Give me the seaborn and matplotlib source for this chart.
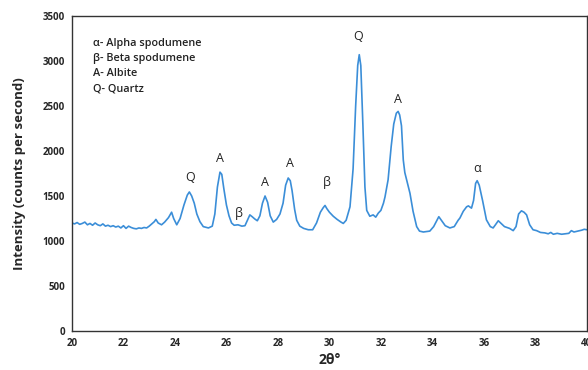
import pandas as pd
import seaborn as sns
import matplotlib.pyplot as plt

two_theta = [
    20.00, 20.10, 20.20, 20.30, 20.40, 20.50, 20.60, 20.70, 20.80, 20.90,
    21.00, 21.10, 21.20, 21.30, 21.40, 21.50, 21.60, 21.70, 21.80, 21.90,
    22.00, 22.10, 22.20, 22.30, 22.40, 22.50, 22.60, 22.70, 22.80, 22.90,
    23.00, 23.10, 23.20, 23.26, 23.35, 23.48, 23.60, 23.75, 23.87, 23.95,
    24.07, 24.20, 24.35, 24.48, 24.56, 24.65, 24.75, 24.85, 24.97, 25.10,
    25.30, 25.45, 25.55, 25.65, 25.75, 25.82, 25.90, 26.00, 26.10, 26.20,
    26.30, 26.45, 26.60, 26.72, 26.80, 26.91, 27.00, 27.10, 27.20, 27.30,
    27.40, 27.50, 27.60, 27.70, 27.82, 27.95, 28.08, 28.20, 28.30, 28.40,
    28.48, 28.55, 28.65, 28.73, 28.85, 29.00, 29.18, 29.35, 29.50, 29.65,
    29.76, 29.83, 29.90, 30.00, 30.15, 30.30, 30.45, 30.54, 30.65, 30.80,
    30.92, 31.02, 31.10, 31.16, 31.22, 31.30, 31.38, 31.45, 31.57, 31.70,
    31.80, 31.90, 32.00, 32.10, 32.16, 32.28, 32.40, 32.50, 32.60, 32.67,
    32.73, 32.80, 32.87, 32.93, 33.00, 33.13, 33.25, 33.39, 33.50, 33.65,
    33.77, 33.90, 34.05, 34.25, 34.35, 34.50, 34.68, 34.85, 35.00, 35.07,
    35.20, 35.33, 35.40, 35.52, 35.60, 35.68, 35.74, 35.82, 35.95, 36.10,
    36.25, 36.36, 36.45, 36.56, 36.65, 36.80, 37.00, 37.14, 37.25, 37.35,
    37.46, 37.56, 37.66, 37.78, 37.91, 38.05, 38.20, 38.37, 38.50, 38.60,
    38.70, 38.85, 39.02, 39.15, 39.30, 39.40, 39.50, 39.65, 39.80, 39.90,
    40.00,
]
intensity = [
    1200, 1190, 1205, 1185, 1195, 1210, 1180, 1195, 1175, 1200,
    1180, 1170, 1190, 1165, 1175, 1160, 1170, 1155, 1165, 1145,
    1170, 1140, 1165, 1150, 1140, 1135, 1145, 1140, 1150, 1145,
    1165, 1190, 1215, 1240, 1200, 1180, 1210, 1260, 1320, 1250,
    1180, 1250, 1400, 1510, 1545, 1500, 1420, 1300, 1215, 1160,
    1145, 1165, 1300, 1600, 1765, 1740, 1580, 1400, 1280, 1200,
    1175, 1180, 1165, 1170, 1220, 1290, 1270, 1245, 1225, 1280,
    1420, 1500, 1430, 1280, 1210, 1240, 1300, 1420, 1620, 1700,
    1670, 1560, 1350, 1230, 1165, 1140, 1125, 1125, 1200, 1320,
    1370, 1395, 1360, 1320, 1275, 1240, 1210, 1195, 1230, 1380,
    1800, 2500, 2950, 3070, 2950, 2300, 1600, 1340, 1275, 1290,
    1265, 1310, 1340, 1420, 1490, 1680, 2050, 2300, 2420, 2440,
    2400, 2280, 1900, 1760, 1680, 1530, 1330, 1160, 1110, 1100,
    1105, 1110, 1160, 1270, 1230, 1170, 1145, 1160, 1230, 1255,
    1330, 1380, 1390, 1365, 1450, 1640, 1670, 1620, 1450, 1235,
    1160, 1145, 1180, 1225, 1200, 1160, 1140, 1115, 1160, 1300,
    1335, 1320, 1290, 1180, 1125, 1115, 1095, 1090, 1080, 1095,
    1075, 1085, 1075, 1080, 1085, 1115, 1100, 1110, 1120, 1130,
    1125,
]

peak_labels = ["Q", "A", "β", "A", "A", "β", "Q", "A", "α"]
peak_x = [24.58, 25.75, 26.5, 27.5, 28.47, 29.9, 31.1, 32.66, 35.73]
peak_y = [1700, 1920, 1310, 1645, 1865, 1655, 3270, 2570, 1810]

legend_lines = ["α- Alpha spodumene", "β- Beta spodumene", "A- Albite", "Q- Quartz"]

df = pd.DataFrame({"two_theta": two_theta, "intensity": intensity})

sns.set_style("white")
plt.rcParams["font.family"] = ["Open Sans", "DejaVu Sans"]

fig = plt.figure(figsize=(5.88, 3.70), dpi=100)
ax = fig.add_axes([0.1224, 0.1054, 0.8756, 0.8514])
sns.lineplot(data=df, x="two_theta", y="intensity", ax=ax, color="#3b8ed8", linewidth=1.2)

ax.set_xlim(20, 40)
ax.set_ylim(0, 3500)
ax.set_xticks(range(20, 41, 2))
ax.set_yticks(range(0, 3501, 500))
ax.tick_params(length=0, labelsize=7, pad=5)
for lab in ax.get_xticklabels() + ax.get_yticklabels():
    lab.set_fontweight("bold")
for s in ax.spines.values():
    s.set_color("#333333")
    s.set_linewidth(1.0)

ax.set_xlabel("2θ°", fontsize=10, fontweight="bold", labelpad=3)
ax.set_ylabel("Intensity (counts per second)", fontsize=9.5, fontweight="bold", labelpad=12)

for lab, x, y in zip(peak_labels, peak_x, peak_y):
    ax.text(x, y, lab, ha="center", va="center", fontsize=9, color="#222222")

for i, line in enumerate(legend_lines):
    ax.text(20.8, 3190 - i * 167, line, ha="left", va="center",
            fontsize=7.8, fontweight="semibold", color="#222222")

fig.savefig("out.png", dpi=100)
